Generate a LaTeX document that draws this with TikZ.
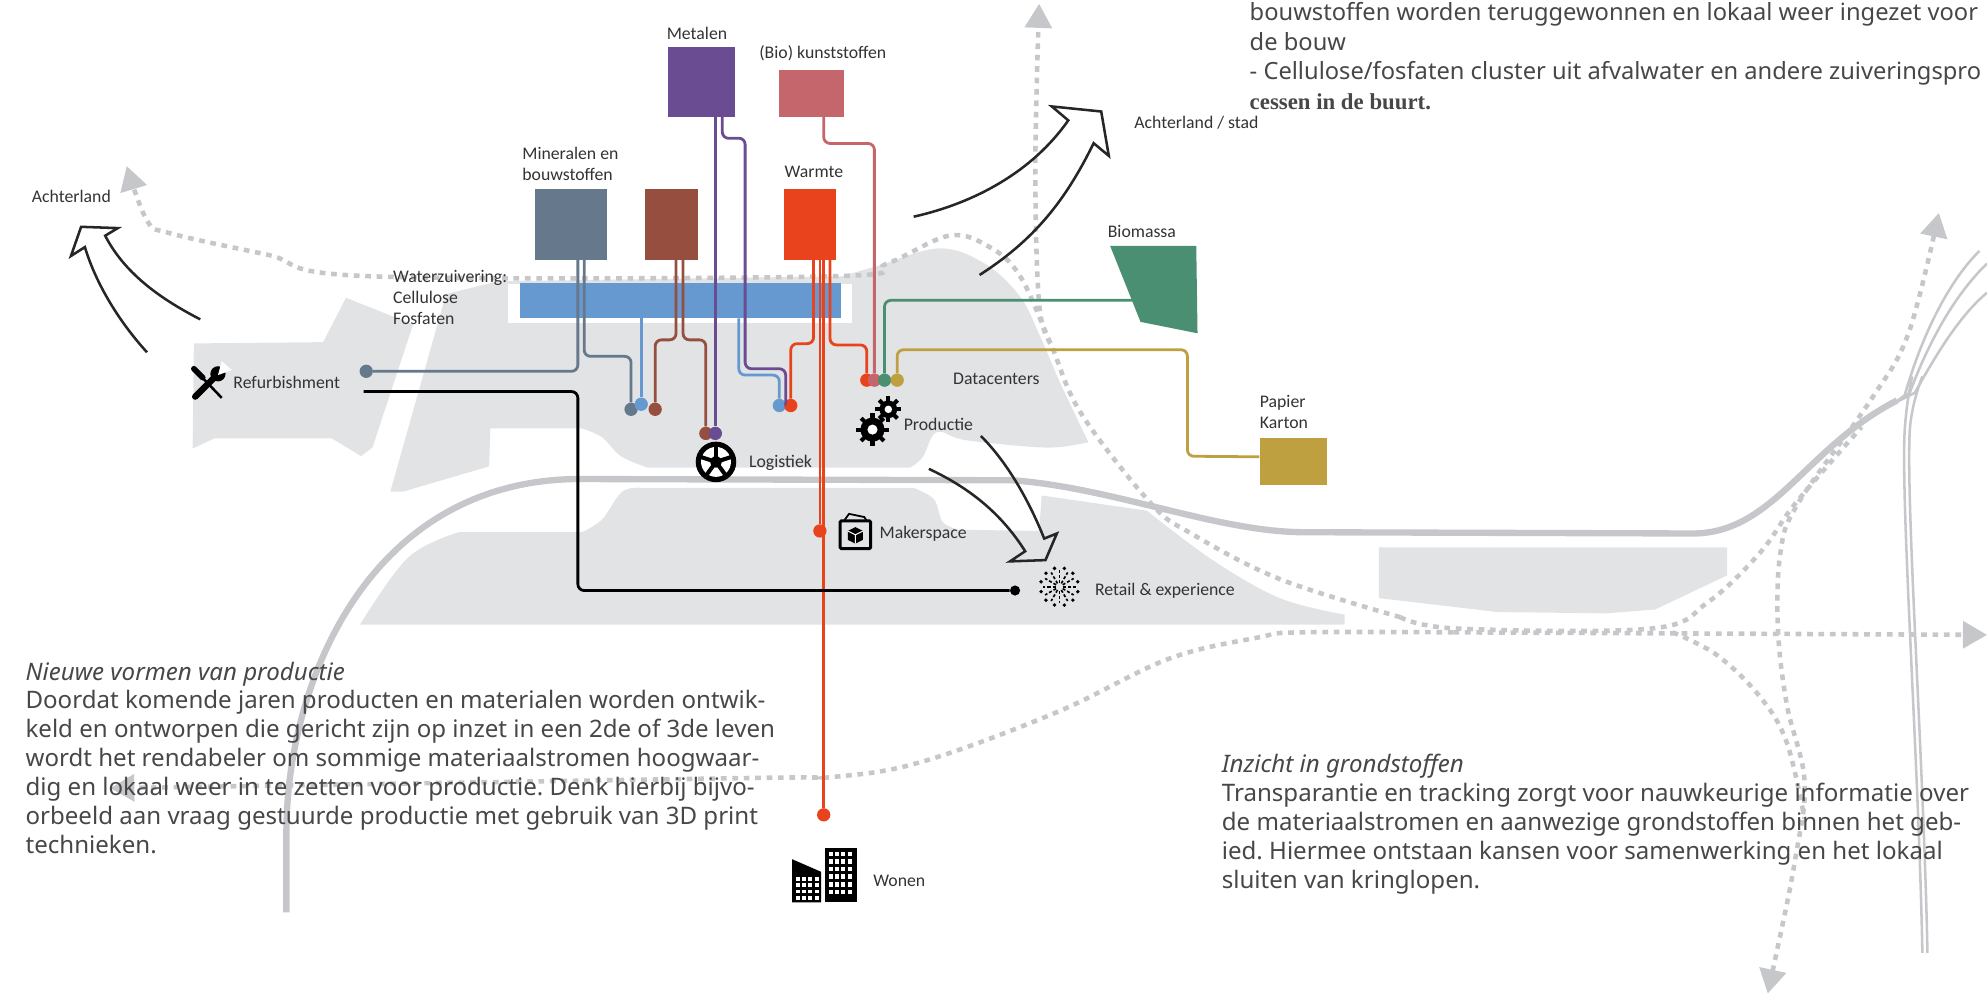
\documentclass[tikz,border=0pt]{standalone}
\usepackage{fontspec}
\setmainfont{Noto Sans}
\newfontfamily\labelfam{Carlito}
\newfontfamily\serieffam{Liberation Serif}
\usetikzlibrary{arrows.meta}
\definecolor{terrein}{HTML}{E2E3E5}
\definecolor{spoor}{HTML}{C6C7CA}
\definecolor{mineraal}{HTML}{66788C}
\definecolor{baksteen}{HTML}{964F3F}
\definecolor{metaal}{HTML}{6A4C93}
\definecolor{kunststof}{HTML}{C4666B}
\definecolor{warmte}{HTML}{E8431D}
\definecolor{water}{HTML}{6699CF}
\definecolor{biomassa}{HTML}{4A8F72}
\definecolor{papier}{HTML}{BFA040}
\definecolor{tekst}{HTML}{474747}
\def\labfont{\labelfam\fontsize{14}{16.5}\selectfont}
\def\bodyfont{\fontsize{19}{22.8}\selectfont\frenchspacing}
\def\topfont{\fontsize{18.7}{23.2}\selectfont\frenchspacing}
\tikzset{
  blok/.style={fill=#1, inner sep=0},
  lijn/.style={line width=2.2pt, rounded corners=5pt, draw=#1},
  stip/.style={circle, fill=#1, inner sep=0, minimum size=10.5pt},
  lab/.style={font=\labfont, text=black!80, anchor=west, inner sep=0, align=left},
  tekstblok/.style={font=\bodyfont, text=tekst, anchor=north west, inner sep=0, align=left},
  spoorlijn/.style={draw=spoor, line width=#1, line join=round},
  route/.style={draw=spoor, line width=3.6pt, dash pattern=on 4.5pt off 4.5pt},
  routepijl/.style={route, -{Triangle[length=19pt,width=21pt,fill=spoor]}},
  routedubbel/.style={route, {Triangle[length=19pt,width=21pt,fill=spoor]}-{Triangle[length=19pt,width=21pt,fill=spoor]}},
  stroom/.style={draw=black!85, line width=2pt, line join=miter, fill=none},
}
\begin{document}
\begin{tikzpicture}[x=1pt,y=-1pt]
\useasboundingbox (0,0) rectangle (1568,786);

\fill[terrein] (153,271) -- (255,270) -- (273,235) -- (326,256) -- (294,353) -- (285,360) -- (262,346) -- (169,346) -- (152,354) -- cycle;
\fill[terrein] (352,232) -- (393,222) -- (664,218) -- plot[smooth,tension=.6] coordinates {(664,218) (692,210) (741,196) (777,208) (805,234) (821,266) (837,303) (859,349)} -- plot[smooth,tension=.6] coordinates {(859,349) (834,353) (806,352) (760,347) (739,341) (728,361) (718,369)} -- (511,369) -- plot[smooth,tension=.6] coordinates {(511,369) (490,360) (475,345) (459,338)} -- (387,338) -- (386,368) -- (318,388) -- (308,388) -- cycle;
\fill[white] (401,224) rectangle (672,255);
\fill[terrein] (284,493) -- plot[smooth,tension=.6] coordinates {(284,493) (322,440) (362,420)} -- (459,420) -- plot[smooth,tension=.6] coordinates {(459,420) (475,410) (491,388) (507,385)} -- (721,385) -- plot[smooth,tension=.6] coordinates {(721,385) (737,394) (744,412) (757,418)} -- (820,419) -- (822,391) -- (905,403) -- plot[smooth,tension=.6] coordinates {(905,403) (957,442) (1010,472) (1061,485)} -- (1061,493) -- cycle;
\fill[terrein] (1088,432) -- (1363,432) -- (1363,454) -- (1306,481) -- (1268,484) -- (1182,483) -- (1088,472) -- cycle;

\draw[spoorlijn=5pt] (226,720) -- (226,657) .. controls (226,540) and (290,380) .. (455,378) -- (799,379) .. controls (880,385) and (960,420) .. (1030,420) -- (1337,421) .. controls (1400,420) and (1425,353) .. (1497,316);
\draw[spoorlijn=2pt] (1495,318) -- (1503,312) .. controls (1515,270) and (1535,225) .. (1562,198);
\draw[spoorlijn=2pt] (1495,318) -- (1507,310) .. controls (1520,275) and (1540,235) .. (1568,208);
\draw[spoorlijn=2pt] (1495,318) -- (1511,310) .. controls (1525,285) and (1545,250) .. (1568,231);
\draw[spoorlijn=2pt] (1517,752) .. controls (1514,600) and (1500,400) .. (1503,340) .. controls (1504,325) and (1506,310) .. (1509,297);
\draw[spoorlijn=2pt] (1521,752) .. controls (1518,600) and (1504,400) .. (1507,340) .. controls (1508,325) and (1512,310) .. (1517,297);

\draw[routepijl] plot[smooth,tension=.6] coordinates {(1105,487) (1010,457) (940,421) (908,397) (853,326) (829,271) (805,218) (781,195) (749,186) (700,208) (656,218) (292,218) (211,201) (134,184) (116,174) (100,131)};
\draw[route] plot[smooth,tension=.6] coordinates {(1105,487) (1150,496) (1303,496) (1348,475) (1389,436) (1417,397) (1469,337)};
\draw[routepijl] plot[smooth,tension=.6] coordinates {(829,271) (820,240) (817,132) (820,3)};
\draw[routedubbel] plot[smooth,tension=.6] coordinates {(1395,784) (1417,676) (1424,616) (1410,556) (1403,496) (1405,436) (1419,397) (1476,316) (1506,263) (1530,168)};
\draw[route] plot[smooth,tension=.6] coordinates {(1320,499) (1355,517) (1389,550) (1410,586) (1424,646)};
\draw[routepijl] plot[smooth,tension=.6] coordinates {(1147,499) (1026,499) (993,503) (922,520) (834,562) (728,601) (658,613) (588,614) (87,622)};
\draw[routepijl] (1147,499) -- (1568,501);

\node[blok=metaal, minimum width=53pt, minimum height=55pt] (metalen) at (553.5,64.5) {};
\node[blok=kunststof, minimum width=51pt, minimum height=37pt] (kunststoffen) at (640.5,73.5) {};
\node[blok=mineraal, minimum width=57pt, minimum height=56pt] (mineralen) at (450.5,177) {};
\node[blok=baksteen, minimum width=42pt, minimum height=56pt] (baksteen) at (530,177) {};
\node[blok=warmte, minimum width=41pt, minimum height=56pt] (warmtebron) at (639.5,177) {};
\node[blok=water, minimum width=254pt, minimum height=28pt] (waterbalk) at (537,237) {};
\node[blok=papier, minimum width=53pt, minimum height=37pt] (papierbron) at (1020.5,364) {};
\fill[biomassa] (876,194) -- (944,194) -- (945,263) -- (900,254) -- cycle;
\coordinate (biobron) at (894,237);

\node[stip=mineraal] (refdot) at (289,293) {};
\node[stip=mineraal] (mindot) at (498,323) {};
\node[stip=water] (wateruit) at (506,319) {};
\node[stip=baksteen] (baklinks) at (517,323) {};
\node[stip=baksteen] (bakrechts) at (557,342) {};
\node[stip=metaal] (metaaluit) at (564.5,342) {};
\node[stip=water] (waterin) at (615,320) {};
\node[stip=warmte] (warmtelinks) at (624,320) {};
\node[stip=warmte] (warmterechts) at (684,300) {};
\node[stip=kunststof] (kunststofdot) at (690,300) {};
\node[stip=biomassa] (biodot) at (698,300) {};
\node[stip=papier] (papierdot) at (708,300) {};
\node[stip=warmte] (makerdot) at (647,419) {};
\node[stip=warmte] (wonendot) at (650,643) {};
\node[circle, fill=black, inner sep=0, minimum size=8pt] (retaildot) at (801,466) {};
\coordinate (refuit) at (287,309);

\draw[lijn=mineraal] ([xshift=5.5pt]mineralen.south) |- (refdot);
\draw[lijn=mineraal] ([xshift=10.5pt]mineralen.south) -- ++(0,76) -| (mindot);
\draw[lijn=water] (waterbalk.south -| wateruit) -- (wateruit);
\draw[lijn=water] (waterbalk.south -| 583,0) -- (583,296) -| (waterin);
\draw[lijn=baksteen] ([xshift=3.5pt]baksteen.south) -- ++(0,63) -| (baklinks);
\draw[lijn=baksteen] ([xshift=9pt]baksteen.south) -- ++(0,63) -| (bakrechts);
\draw[lijn=metaal] (metalen.south -| metaaluit) -- (metaaluit);
\draw[lijn=metaal] ([xshift=16.5pt]metalen.south) -- ++(0,17) -- (588,109) -- (588,291) -- (620,291) -- (620,320);
\draw[lijn=warmte] ([xshift=2.5pt]warmtebron.south) -- ++(0,66) -| (warmtelinks);
\draw[lijn=warmte] (warmtebron.south -| makerdot) -- (makerdot);
\draw[lijn=warmte] (warmtebron.south -| wonendot) -- (wonendot);
\draw[lijn=warmte] ([xshift=15.5pt]warmtebron.south) -- ++(0,67) -| (warmterechts);
\draw[lijn=kunststof] ([xshift=9.5pt]kunststoffen.south) -- ++(0,21) -| (kunststofdot);
\draw[lijn=biomassa] (biobron) -| (biodot);
\draw[lijn=papier] ([yshift=3.5pt]papierbron.west) -- (937,360) -- (937,276) -| (papierdot);
\draw[lijn=black] (refuit) -- (456,309) |- (retaildot);

\draw[stroom] (158,252) .. controls (125,235) and (98,215) .. (83,186) -- (93,180) -- (64,179) -- (56,202) -- (67,195) .. controls (76,225) and (95,255) .. (116,278);
\draw[stroom] (721,171) .. controls (770,160) and (815,135) .. (843,95) -- (830,84) -- (869,88) -- (875,123) -- (863,113) .. controls (840,160) and (815,190) .. (773,217);
\draw[stroom] (774,344) .. controls (795,365) and (812,395) .. (824,425) -- (834,421) -- (825,442) -- (797,443) -- (809,435) .. controls (790,405) and (765,385) .. (733,370);

\draw[line width=2pt] (153,291) -- (175,314);
\draw[line width=4.5pt,line cap=round] (153,291) -- (160,298);
\draw[line width=5pt,line cap=round] (154,313) -- (171,296);
\fill (172,295) circle (6pt);
\fill[white] (172,296) -- (175,285) -- (183,292) -- cycle;

\coordinate (wiel) at (565,364.5);
\fill (wiel) circle (16pt);
\fill[white] (wiel) circle (11.8pt);
\foreach \a in {18,90,162,234,306}{
  \draw[line width=3.2pt] (wiel) -- ++(\a:13pt);
}
\fill (wiel) circle (4.5pt);

\coordinate (tandA) at (688.5,339);
\coordinate (tandB) at (701,323);
\foreach \p/\q in {(tandA)/9.5, (tandB)/7}{
  \fill \p circle (\q pt);
  \foreach \a in {0,45,...,315}{
    \draw[line width=3.2pt] \p -- ++(\a:\q pt+3.2pt);
  }
  \fill[white] \p circle (\q pt*0.42);
}

\draw[line width=2.4pt, rounded corners=1pt] (663,411) rectangle (687,433);
\draw[line width=1.4pt] (666,411) -- (670,405.5) -- (682,408) -- (684,411);
\fill (675,416) -- (681,419) -- (681,426) -- (675,429) -- (669,426) -- (669,419) -- cycle;
\draw[white,line width=.8pt] (669,419) -- (675,422) -- (681,419) (675,422) -- (675,429);

\coordinate (vuurwerk) at (836,463);
\foreach \a in {0,30,...,330}{
  \draw[line width=1.3pt, dash pattern=on 2.4pt off 1.6pt] (vuurwerk) ++(\a:3pt) -- ++(\a:10pt);
  \fill (vuurwerk) ++(\a+15:15pt) circle (1.5pt);
}

\fill (625,678) -- (648,688) -- (648,712) -- (625,712) -- cycle;
\fill (651,669) rectangle (676,712);
\foreach \x in {628,633,...,643}{
  \foreach \y in {692,697,...,707}{
    \fill[white] (\x,\y) rectangle ++(3,3);
  }
}
\foreach \x in {654,659,...,669}{
  \foreach \y in {672,678,...,706}{
    \fill[white] (\x,\y) rectangle ++(3,3.6);
  }
}

\node[lab] (achterland) at (25,155) {Achterland};
\node[lab] (mineralenlab) at (412,129.5) {Mineralen en\\bouwstoffen};
\node[lab] (metalenlab) at (526,26) {Metalen};
\node[lab] (kunststoflab) at (599,42) {(Bio) kunststoffen};
\node[lab] (warmtelab) at (619,136) {Warmte};
\node[lab] (stadlab) at (895,97) {Achterland / stad};
\node[lab] (biolab) at (874,183) {Biomassa};
\node[lab] (waterlab) at (310,234.5) {Waterzuivering:\\Cellulose\\Fosfaten};
\node[lab] (datalab) at (752,299) {Datacenters};
\node[lab] (productielab) at (713,335) {Productie};
\node[lab] (logistieklab) at (591,365) {Logistiek};
\node[lab] (papierlab) at (994,325) {Papier\\Karton};
\node[lab] (refurblab) at (184,302) {Refurbishment};
\node[lab] (makerlab) at (694,421) {Makerspace};
\node[lab] (retaillab) at (864,466) {Retail \& experience};
\node[lab] (wonenlab) at (689,695) {Wonen};

\node[tekstblok] (producttekst) at (20,522) {\textit{Nieuwe vormen van productie}\\Doordat komende jaren producten en materialen worden ontwik-\\keld en ontworpen die gericht zijn op inzet in een 2de of 3de leven\\wordt het rendabeler om sommige materiaalstromen hoogwaar-\\dig en lokaal weer in te zetten voor productie. Denk hierbij bijvo-\\orbeeld aan vraag gestuurde productie met gebruik van 3D print\\technieken.};
\node[tekstblok] (inzichttekst) at (964,595) {\textit{Inzicht in grondstoffen}\\Transparantie en tracking zorgt voor nauwkeurige informatie over\\de materiaalstromen en aanwezige grondstoffen binnen het geb-\\ied. Hiermee ontstaan kansen voor samenwerking en het lokaal\\sluiten van kringlopen.};
\node[tekstblok, font=\topfont] (bouwtekst) at (986,2) {bouwstoffen worden teruggewonnen en lokaal weer ingezet voor\\de bouw\\- Cellulose/fosfaten cluster uit afvalwater en andere zuiveringspro\\{\serieffam\bfseries\fontsize{18}{22.8}\selectfont cessen in de buurt.}};
\end{tikzpicture}
\end{document}
